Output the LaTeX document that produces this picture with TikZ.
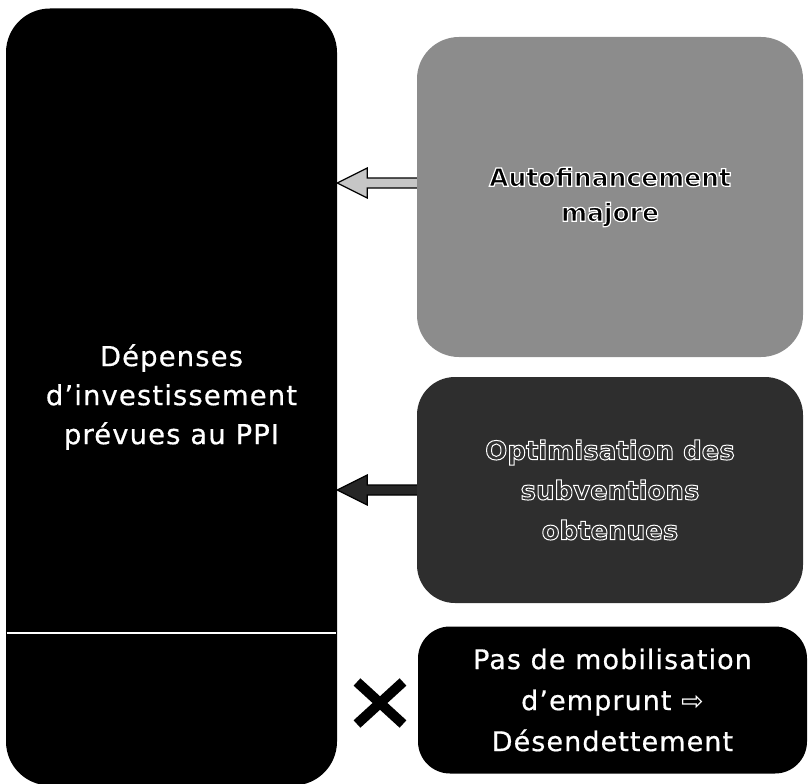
\documentclass[tikz,border=0pt]{standalone}
\usepackage{fontspec}
\setmainfont{DejaVu Sans}
\newfontfamily\symfont{DejaVu Sans}
\newfontfamily\whitefont[FakeBold=0.6, LetterSpace=4]{DejaVu Sans}
\usetikzlibrary{calc}
\definecolor{midgray}{gray}{0.55}
\definecolor{darkbox}{gray}{0.18}
\newcommand{\halo}[2]{\special{pdf:literal direct 2 Tr #1 w 1 1 1 RG}#2\special{pdf:literal direct 0 Tr}}
\tikzset{
  x=1pt, y=-1pt,
  box/.style={rounded corners=44pt, inner sep=0pt, align=center},
  harrow/.style={draw=black, line width=1.2pt, line join=miter},
}
\newcommand{\blockarrow}[3]{%
  \draw[harrow,#1] ($(#2)+(0,-5)$) -- ($(#3)+(30,-5)$) -- ($(#3)+(30,-15)$) -- (#3)
    -- ($(#3)+(30,15)$) -- ($(#3)+(30,5)$) -- ($(#2)+(0,5)$);}
\begin{document}
\begin{tikzpicture}
\useasboundingbox (0,0) rectangle (809,784);
% left tall box
\node[box, fill=black, minimum width=331pt, minimum height=777pt,
      text=white, font=\whitefont\fontsize{27.5}{39}\selectfont] (dep) at (171.5,397)
  {Dépenses\\d’investissement\\prévues au PPI};
\draw[white, line width=2pt] ($(dep.west)+(1,236)$) coordinate (wl) -- ($(dep.east)+(-1,236)$) coordinate (wr);
% right boxes
\node[box, rounded corners=42pt, fill=midgray, minimum width=386pt, minimum height=320pt,
      font=\bfseries\fontsize{25}{35}\selectfont] (auto) at (610,197)
  {\halo{1.2}{Autofinancement\\majore}};
\node[box, rounded corners=38pt, fill=darkbox, minimum width=386pt, minimum height=226pt,
      font=\bfseries\fontsize{26}{40}\selectfont, text=black!80] (opt) at (610,490)
  {\halo{1.0}{Optimisation des\\subventions\\obtenues}};
\node[box, rounded corners=32pt, fill=black, minimum width=389pt, minimum height=147pt,
      text=white, font=\whitefont\fontsize{27}{41}\selectfont] (pas) at (612.5,700)
  {Pas de mobilisation\\d’emprunt {\symfont ⇨}\\Désendettement};
% arrows
\coordinate (a1s) at (auto.west |- 0,183);
\coordinate (a1t) at (dep.east |- 0,183);
\blockarrow{fill=gray!45}{a1s}{a1t}
\coordinate (a2s) at (opt.west);
\coordinate (a2t) at (dep.east |- opt.west);
\blockarrow{fill=black!85}{a2s}{a2t}
% cross
\coordinate (cx) at (380,703);
\draw[black, line width=10pt] ($(cx)+(-23,-21)$) -- ($(cx)+(23,21)$);
\draw[black, line width=10pt] ($(cx)+(-23,21)$) -- ($(cx)+(23,-21)$);
\end{tikzpicture}
\end{document}
